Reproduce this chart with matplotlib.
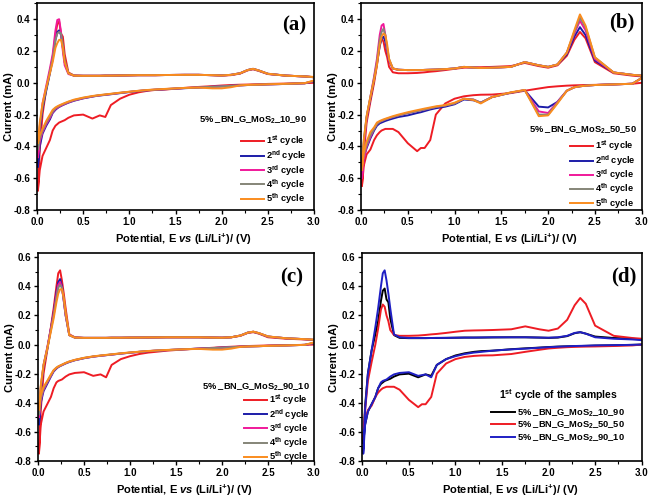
import matplotlib
matplotlib.use('Agg')
import matplotlib.pyplot as plt
from matplotlib.ticker import MultipleLocator, FormatStrFormatter

plt.rcParams['font.family'] = ['Liberation Sans', 'DejaVu Sans']
plt.rcParams['font.weight'] = 'bold'
plt.rcParams['mathtext.fontset'] = 'custom'
plt.rcParams['mathtext.rm'] = 'Liberation Sans:bold'
plt.rcParams['mathtext.it'] = 'Liberation Sans:italic:bold'
plt.rcParams['mathtext.bf'] = 'Liberation Sans:bold'
plt.rcParams['mathtext.default'] = 'rm'

# ── potential grid (V), shared by every branch ──────────────
E = [0.01, 0.03, 0.06, 0.10, 0.14, 0.17, 0.20, 0.22, 0.24, 0.26, 0.28, 0.30, 0.34,
     0.40, 0.50, 0.60, 0.64, 0.68, 0.74, 0.80, 0.90, 1.00, 1.10, 1.20, 1.28, 1.40,
     1.60, 1.75, 1.90, 2.00, 2.10, 2.20, 2.28, 2.34, 2.40, 2.50, 2.70, 2.90, 3.00]

# ── panel (a): 10_90, current in mA, dn = cathodic, up = anodic ──
a1_dn = [-0.68, -0.55, -0.46, -0.41, -0.36, -0.30, -0.27, -0.26, -0.25, -0.245, -0.24, -0.235, -0.22,
         -0.205, -0.20, -0.225, -0.215, -0.205, -0.215, -0.14, -0.10, -0.075, -0.06, -0.05, -0.045, -0.042,
         -0.032, -0.026, -0.021, -0.017, -0.014, -0.012, -0.011, -0.010, -0.009, -0.007, -0.005, -0.002, 0.0]
a1_up = [-0.68, -0.42, -0.20, -0.04, 0.07, 0.16, 0.30, 0.37, 0.385, 0.31, 0.29, 0.18, 0.065,
         0.046, 0.044, 0.044, 0.044, 0.044, 0.045, 0.045, 0.046, 0.047, 0.048, 0.048, 0.048, 0.049,
         0.05, 0.05, 0.048, 0.046, 0.048, 0.058, 0.078, 0.085, 0.075, 0.055, 0.045, 0.04, 0.035]
a2_dn = [-0.53, -0.40, -0.32, -0.27, -0.23, -0.19, -0.17, -0.16, -0.152, -0.146, -0.14, -0.135, -0.125,
         -0.113, -0.098, -0.087, -0.083, -0.08, -0.076, -0.072, -0.065, -0.058, -0.052, -0.047, -0.044, -0.04,
         -0.034, -0.03, -0.025, -0.022, -0.019, -0.016, -0.014, -0.013, -0.012, -0.01, -0.007, -0.003, 0.01]
a2_up = [-0.53, -0.30, -0.16, -0.05, 0.06, 0.15, 0.27, 0.32, 0.33, 0.30, 0.22, 0.13, 0.06,
         0.045, 0.044, 0.044, 0.044, 0.044, 0.045, 0.045, 0.046, 0.047, 0.048, 0.048, 0.048, 0.049,
         0.05, 0.05, 0.048, 0.046, 0.05, 0.06, 0.08, 0.088, 0.078, 0.057, 0.045, 0.04, 0.035]
a3_dn = [-0.47, -0.37, -0.31, -0.26, -0.22, -0.185, -0.165, -0.157, -0.15, -0.144, -0.138, -0.133, -0.123,
         -0.111, -0.097, -0.086, -0.082, -0.079, -0.075, -0.071, -0.064, -0.057, -0.051, -0.046, -0.043, -0.039,
         -0.033, -0.029, -0.025, -0.022, -0.019, -0.016, -0.014, -0.013, -0.012, -0.01, -0.007, -0.003, 0.01]
a3_up = [-0.47, -0.28, -0.13, -0.02, 0.09, 0.18, 0.33, 0.395, 0.40, 0.32, 0.20, 0.11, 0.055,
         0.045, 0.044, 0.044, 0.044, 0.044, 0.045, 0.045, 0.046, 0.047, 0.048, 0.048, 0.048, 0.049,
         0.05, 0.05, 0.048, 0.046, 0.05, 0.06, 0.08, 0.087, 0.077, 0.056, 0.045, 0.04, 0.035]
a4_dn = [-0.42, -0.35, -0.30, -0.25, -0.21, -0.18, -0.16, -0.152, -0.146, -0.14, -0.135, -0.13, -0.12,
         -0.109, -0.095, -0.085, -0.081, -0.078, -0.074, -0.07, -0.063, -0.057, -0.051, -0.046, -0.043, -0.039,
         -0.033, -0.029, -0.025, -0.022, -0.019, -0.016, -0.014, -0.013, -0.012, -0.01, -0.007, -0.003, 0.012]
a4_up = [-0.42, -0.27, -0.15, -0.04, 0.07, 0.15, 0.27, 0.31, 0.32, 0.31, 0.24, 0.14, 0.06,
         0.045, 0.044, 0.044, 0.044, 0.044, 0.045, 0.045, 0.046, 0.047, 0.048, 0.048, 0.048, 0.049,
         0.05, 0.05, 0.048, 0.046, 0.05, 0.06, 0.08, 0.087, 0.077, 0.056, 0.045, 0.04, 0.035]
a5_dn = [-0.38, -0.33, -0.29, -0.24, -0.20, -0.17, -0.155, -0.148, -0.142, -0.137, -0.132, -0.127, -0.118,
         -0.106, -0.093, -0.083, -0.08, -0.077, -0.073, -0.069, -0.062, -0.056, -0.05, -0.045, -0.042, -0.038,
         -0.032, -0.03, -0.035, -0.035, -0.028, -0.016, -0.013, -0.012, -0.011, -0.009, -0.006, -0.002, 0.015]
a5_up = [-0.38, -0.25, -0.13, -0.03, 0.06, 0.13, 0.22, 0.25, 0.27, 0.27, 0.22, 0.13, 0.06,
         0.045, 0.044, 0.044, 0.044, 0.044, 0.045, 0.045, 0.046, 0.047, 0.048, 0.048, 0.048, 0.049,
         0.05, 0.05, 0.048, 0.046, 0.05, 0.06, 0.08, 0.088, 0.078, 0.057, 0.045, 0.04, 0.037]

# ── panel (b): 50_50 ─────────────────────────────────────────
b1_dn = [-0.65, -0.52, -0.45, -0.42, -0.36, -0.33, -0.31, -0.30, -0.295, -0.29, -0.29, -0.29, -0.29,
         -0.31, -0.38, -0.43, -0.41, -0.41, -0.36, -0.20, -0.13, -0.10, -0.085, -0.078, -0.075, -0.074,
         -0.065, -0.05, -0.036, -0.027, -0.022, -0.018, -0.016, -0.015, -0.014, -0.013, -0.01, -0.006, 0.0]
b1_up = [-0.65, -0.45, -0.25, -0.12, 0.0, 0.11, 0.24, 0.275, 0.26, 0.20, 0.16, 0.10, 0.066,
         0.06, 0.06, 0.062, 0.064, 0.066, 0.07, 0.073, 0.08, 0.088, 0.095, 0.097, 0.098, 0.10,
         0.105, 0.125, 0.105, 0.095, 0.11, 0.17, 0.27, 0.32, 0.28, 0.13, 0.06, 0.045, 0.04]
b2_dn = [-0.55, -0.47, -0.41, -0.35, -0.30, -0.27, -0.255, -0.25, -0.245, -0.24, -0.236, -0.232, -0.225,
         -0.215, -0.205, -0.19, -0.185, -0.178, -0.168, -0.16, -0.15, -0.135, -0.105, -0.11, -0.125, -0.09,
         -0.062, -0.047, -0.15, -0.155, -0.12, -0.05, -0.028, -0.022, -0.018, -0.014, -0.01, -0.006, 0.03]
b2_up = [-0.55, -0.38, -0.22, -0.10, 0.02, 0.12, 0.23, 0.28, 0.29, 0.26, 0.20, 0.14, 0.09,
         0.082, 0.08, 0.08, 0.08, 0.081, 0.082, 0.083, 0.086, 0.09, 0.10, 0.096, 0.093, 0.095,
         0.10, 0.13, 0.11, 0.10, 0.115, 0.18, 0.29, 0.35, 0.30, 0.14, 0.065, 0.05, 0.045]
b3_dn = [-0.60, -0.48, -0.40, -0.34, -0.29, -0.26, -0.245, -0.24, -0.235, -0.23, -0.226, -0.222, -0.215,
         -0.205, -0.19, -0.178, -0.173, -0.168, -0.16, -0.152, -0.143, -0.13, -0.10, -0.105, -0.125, -0.09,
         -0.062, -0.046, -0.18, -0.19, -0.12, -0.05, -0.028, -0.022, -0.018, -0.014, -0.01, -0.006, 0.03]
b3_up = [-0.60, -0.40, -0.22, -0.09, 0.04, 0.15, 0.30, 0.36, 0.37, 0.30, 0.21, 0.14, 0.09,
         0.082, 0.08, 0.08, 0.08, 0.081, 0.082, 0.083, 0.086, 0.09, 0.10, 0.096, 0.093, 0.095,
         0.10, 0.13, 0.11, 0.10, 0.115, 0.19, 0.31, 0.39, 0.33, 0.15, 0.065, 0.05, 0.045]
b4_dn = [-0.52, -0.45, -0.39, -0.33, -0.29, -0.26, -0.245, -0.24, -0.235, -0.23, -0.226, -0.222, -0.215,
         -0.205, -0.19, -0.178, -0.173, -0.168, -0.16, -0.152, -0.143, -0.13, -0.10, -0.105, -0.125, -0.09,
         -0.062, -0.046, -0.20, -0.20, -0.125, -0.05, -0.028, -0.022, -0.018, -0.014, -0.01, -0.006, 0.03]
b4_up = [-0.52, -0.36, -0.21, -0.09, 0.03, 0.13, 0.27, 0.32, 0.34, 0.30, 0.22, 0.15, 0.09,
         0.082, 0.08, 0.08, 0.08, 0.081, 0.082, 0.083, 0.086, 0.09, 0.10, 0.096, 0.093, 0.095,
         0.10, 0.13, 0.11, 0.10, 0.115, 0.19, 0.32, 0.41, 0.35, 0.16, 0.065, 0.05, 0.045]
b5_dn = [-0.55, -0.44, -0.37, -0.31, -0.28, -0.25, -0.24, -0.235, -0.23, -0.226, -0.222, -0.218, -0.21,
         -0.20, -0.185, -0.172, -0.167, -0.162, -0.155, -0.148, -0.14, -0.125, -0.10, -0.108, -0.13, -0.09,
         -0.06, -0.045, -0.21, -0.205, -0.13, -0.05, -0.028, -0.022, -0.018, -0.014, -0.01, -0.006, 0.03]
b5_up = [-0.55, -0.36, -0.21, -0.09, 0.02, 0.11, 0.24, 0.29, 0.31, 0.30, 0.24, 0.15, 0.09,
         0.082, 0.08, 0.08, 0.08, 0.081, 0.082, 0.083, 0.086, 0.09, 0.10, 0.096, 0.093, 0.095,
         0.10, 0.13, 0.11, 0.10, 0.115, 0.19, 0.33, 0.43, 0.36, 0.16, 0.065, 0.05, 0.045]

# ── panel (c): 90_10 ─────────────────────────────────────────
c1_dn = [-0.75, -0.55, -0.46, -0.41, -0.36, -0.30, -0.26, -0.25, -0.245, -0.24, -0.23, -0.22, -0.205,
         -0.195, -0.19, -0.215, -0.21, -0.205, -0.225, -0.14, -0.10, -0.08, -0.065, -0.055, -0.05, -0.042,
         -0.033, -0.028, -0.022, -0.018, -0.015, -0.012, -0.01, -0.009, -0.008, -0.006, -0.004, -0.002, 0.0]
c1_up = [-0.75, -0.45, -0.20, -0.04, 0.12, 0.25, 0.40, 0.49, 0.51, 0.44, 0.35, 0.25, 0.07,
         0.05, 0.045, 0.045, 0.045, 0.045, 0.045, 0.046, 0.046, 0.047, 0.048, 0.048, 0.049, 0.05,
         0.05, 0.05, 0.048, 0.047, 0.05, 0.06, 0.08, 0.085, 0.075, 0.05, 0.04, 0.035, 0.03]
c2_dn = [-0.55, -0.40, -0.32, -0.27, -0.22, -0.185, -0.165, -0.155, -0.148, -0.142, -0.136, -0.13, -0.12,
         -0.108, -0.094, -0.083, -0.08, -0.077, -0.073, -0.069, -0.062, -0.056, -0.05, -0.045, -0.042, -0.038,
         -0.032, -0.028, -0.024, -0.021, -0.018, -0.015, -0.013, -0.012, -0.011, -0.009, -0.006, -0.002, 0.01]
c2_up = [-0.55, -0.32, -0.15, -0.03, 0.11, 0.22, 0.36, 0.43, 0.45, 0.40, 0.30, 0.20, 0.065,
         0.048, 0.046, 0.046, 0.046, 0.046, 0.046, 0.047, 0.047, 0.048, 0.048, 0.049, 0.049, 0.05,
         0.05, 0.05, 0.048, 0.047, 0.05, 0.062, 0.082, 0.088, 0.078, 0.055, 0.043, 0.037, 0.032]
c3_dn = [-0.50, -0.38, -0.31, -0.26, -0.215, -0.18, -0.162, -0.153, -0.146, -0.14, -0.134, -0.128, -0.118,
         -0.107, -0.093, -0.083, -0.08, -0.077, -0.073, -0.069, -0.062, -0.056, -0.05, -0.045, -0.042, -0.038,
         -0.032, -0.028, -0.024, -0.021, -0.018, -0.015, -0.013, -0.012, -0.011, -0.009, -0.006, -0.002, 0.01]
c3_up = [-0.50, -0.30, -0.14, -0.02, 0.11, 0.21, 0.34, 0.41, 0.43, 0.39, 0.30, 0.20, 0.065,
         0.048, 0.046, 0.046, 0.046, 0.046, 0.046, 0.047, 0.047, 0.048, 0.048, 0.049, 0.049, 0.05,
         0.05, 0.05, 0.048, 0.047, 0.05, 0.062, 0.082, 0.088, 0.078, 0.055, 0.043, 0.037, 0.032]
c4_dn = [-0.48, -0.37, -0.30, -0.255, -0.21, -0.178, -0.16, -0.151, -0.145, -0.139, -0.133, -0.127, -0.117,
         -0.106, -0.092, -0.082, -0.079, -0.076, -0.072, -0.068, -0.061, -0.055, -0.05, -0.045, -0.042, -0.038,
         -0.032, -0.028, -0.024, -0.021, -0.018, -0.015, -0.013, -0.012, -0.011, -0.009, -0.006, -0.002, 0.012]
c4_up = [-0.48, -0.29, -0.14, -0.03, 0.10, 0.20, 0.32, 0.39, 0.41, 0.39, 0.31, 0.21, 0.065,
         0.048, 0.046, 0.046, 0.046, 0.046, 0.046, 0.047, 0.047, 0.048, 0.048, 0.049, 0.049, 0.05,
         0.05, 0.05, 0.048, 0.047, 0.05, 0.062, 0.082, 0.088, 0.078, 0.055, 0.043, 0.037, 0.032]
c5_dn = [-0.45, -0.35, -0.29, -0.25, -0.205, -0.175, -0.158, -0.15, -0.144, -0.138, -0.132, -0.126, -0.116,
         -0.105, -0.091, -0.081, -0.078, -0.075, -0.071, -0.067, -0.06, -0.054, -0.049, -0.044, -0.041, -0.037,
         -0.032, -0.03, -0.035, -0.035, -0.028, -0.016, -0.013, -0.012, -0.011, -0.009, -0.006, -0.002, 0.015]
c5_up = [-0.45, -0.28, -0.14, -0.03, 0.09, 0.18, 0.29, 0.35, 0.38, 0.38, 0.32, 0.22, 0.065,
         0.048, 0.046, 0.046, 0.046, 0.046, 0.046, 0.047, 0.047, 0.048, 0.048, 0.049, 0.049, 0.05,
         0.05, 0.05, 0.048, 0.047, 0.05, 0.062, 0.082, 0.089, 0.079, 0.056, 0.043, 0.037, 0.034]

cycle_labels = [r'1$^{st}$ cycle', r'2$^{nd}$ cycle', r'3$^{rd}$ cycle',
                r'4$^{th}$ cycle', r'5$^{th}$ cycle']
sample_labels = [r'5% _BN_G_MoS$_{2}$_10_90', r'5% _BN_G_MoS$_{2}$_50_50',
                 r'5% _BN_G_MoS$_{2}$_90_10']

C_RED = '#ee1c24'
C_BLUE = '#1c1ca8'
C_MAG = '#f0199a'
C_GRAY = '#858578'
C_ORANGE = '#fa8c1e'
cycle_colors = [C_RED, C_BLUE, C_MAG, C_GRAY, C_ORANGE]


def loop(ax, dn, up, color, label):
    # cathodic sweep 3.0 -> 0.01 V, then anodic sweep back to 3.0 V
    x = E[::-1] + E
    y = dn[::-1] + up
    return ax.plot(x, y, color=color, lw=1.4, label=label, solid_joinstyle='round')[0]


def style(ax, ytop):
    ax.set_xlim(0, 3.0)
    ax.set_ylim(-0.8, ytop)
    ax.xaxis.set_major_locator(MultipleLocator(0.5))
    ax.xaxis.set_minor_locator(MultipleLocator(0.25))
    ax.yaxis.set_major_locator(MultipleLocator(0.2))
    ax.yaxis.set_minor_locator(MultipleLocator(0.1))
    ax.tick_params(which='major', direction='out', length=3, width=1, labelsize=7, pad=2)
    ax.tick_params(which='minor', direction='out', length=2, width=0.8)
    ax.xaxis.set_major_formatter(FormatStrFormatter('%.1f'))
    ax.yaxis.set_major_formatter(FormatStrFormatter('%.1f'))
    for s in ax.spines.values():
        s.set_linewidth(1.2)
    ax.set_xlabel(r'Potential, E $\mathit{vs}$ (Li/Li$^{+}$)/ (V)', fontsize=8, fontweight='bold')
    ax.set_ylabel('Current (mA)', fontsize=8, fontweight='bold')
    ax.xaxis.set_label_coords(0.53, -0.105)
    ax.yaxis.set_label_coords(-0.083, 0.5)


fig = plt.figure(figsize=(6.5, 5), dpi=100)
fig.patch.set_facecolor('white')
ax_a = fig.add_axes([0.0569, 0.58, 0.4262, 0.4134])
ax_b = fig.add_axes([0.5554, 0.58, 0.4318, 0.4134])
ax_c = fig.add_axes([0.0585, 0.078, 0.4246, 0.4154])
ax_d = fig.add_axes([0.5574, 0.078, 0.4298, 0.4154])

panels = [
    (ax_a, [(a1_dn, a1_up), (a2_dn, a2_up), (a3_dn, a3_up), (a4_dn, a4_up), (a5_dn, a5_up)],
     0.5, sample_labels[0], '(a)', (0.975, 0.435), (0.975, 0.02), (0.93, 0.895)),
    (ax_b, [(b1_dn, b1_up), (b2_dn, b2_up), (b3_dn, b3_up), (b4_dn, b4_up), (b5_dn, b5_up)],
     0.5, sample_labels[1], '(b)', (0.983, 0.387), (0.98, -0.003), (0.93, 0.905)),
    (ax_c, [(c1_dn, c1_up), (c2_dn, c2_up), (c3_dn, c3_up), (c4_dn, c4_up), (c5_dn, c5_up)],
     0.627, sample_labels[2], '(c)', (0.985, 0.357), (0.985, -0.015), (0.92, 0.883)),
]

leg_font = {'family': 'Liberation Sans', 'weight': 'bold', 'size': 6.7}

for ax, curves, ytop, title, tag, tpos, lpos, ppos in panels:
    handles = []
    for (dn, up), col, lab in zip(curves, cycle_colors, cycle_labels):
        handles.append(loop(ax, dn, up, col, lab))
    style(ax, ytop)
    ax.text(tpos[0], tpos[1], title, transform=ax.transAxes, ha='right', va='center',
            fontsize=6.7, fontweight='bold')
    ax.legend(handles=handles, loc='lower right', bbox_to_anchor=lpos, frameon=False,
              prop=leg_font, handlelength=2.5, handletextpad=0.25, labelspacing=-0.05,
              borderpad=0, borderaxespad=0)
    ax.text(ppos[0], ppos[1], tag, transform=ax.transAxes, ha='center', va='center',
            fontsize=15, fontweight='bold', family='Liberation Serif')

# ── panel (d): first cycles of the three samples ─────────────
hd = [loop(ax_d, a1_dn, a1_up, 'black', sample_labels[0]),
      loop(ax_d, b1_dn, b1_up, C_RED, sample_labels[1]),
      loop(ax_d, c1_dn, c1_up, '#1f1fc4', sample_labels[2])]
style(ax_d, 0.627)
ax_d.text(0.915, 0.318, r'1$^{st}$ cycle of the samples', transform=ax_d.transAxes,
          ha='right', va='center', fontsize=7.5, fontweight='bold')
ax_d.legend(handles=hd, loc='lower right', bbox_to_anchor=(0.94, 0.083), frameon=False,
            prop=leg_font, handlelength=2.5, handletextpad=0.25, labelspacing=0.12,
            borderpad=0, borderaxespad=0)
ax_d.text(0.937, 0.888, '(d)', transform=ax_d.transAxes, ha='center', va='center',
          fontsize=15, fontweight='bold', family='Liberation Serif')

plt.savefig('out.png', dpi=100, facecolor='white')
plt.close()
